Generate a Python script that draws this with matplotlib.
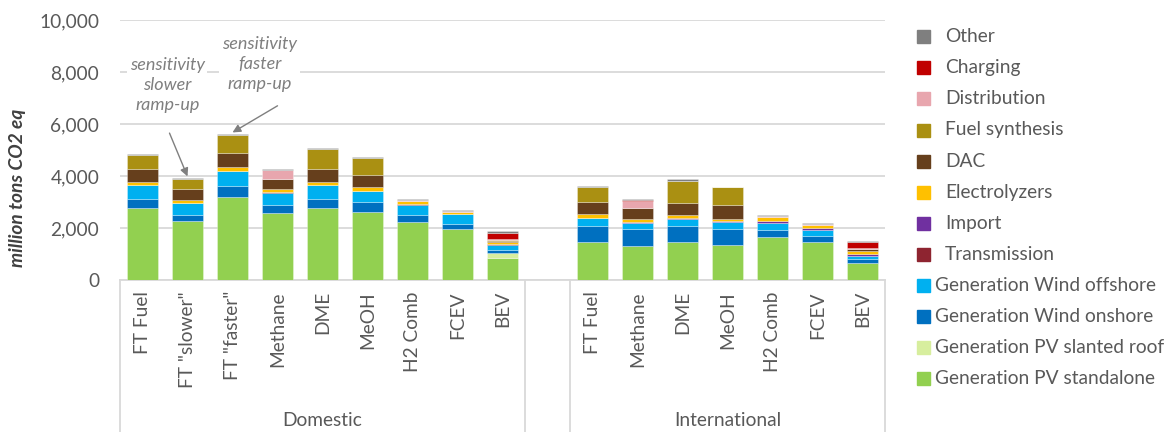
import matplotlib
matplotlib.use("Agg")
import matplotlib.pyplot as plt
from matplotlib.patches import Rectangle
from matplotlib.ticker import FuncFormatter
import numpy as np

plt.rcParams['font.family'] = ['Lato', 'DejaVu Sans']

# Categories (an empty slot separates the two groups)
domestic = ['FT Fuel', 'FT "slower"', 'FT "faster"', 'Methane', 'DME', 'MeOH',
            'H2 Comb', 'FCEV', 'BEV']
international = ['FT Fuel', 'Methane', 'DME', 'MeOH', 'H2 Comb', 'FCEV', 'BEV']
groups = ['Domestic', 'International']

# Emission components (million tons CO2 eq), bottom to top of the stack
series_names = ['Generation PV standalone', 'Generation PV slanted roof',
                'Generation Wind onshore', 'Generation Wind offshore',
                'Transmission', 'Import', 'Electrolyzers', 'DAC',
                'Fuel synthesis', 'Distribution', 'Charging', 'Other']

#                         FT   slow  fast  CH4   DME  MeOH   H2  FCEV  BEV
dom_pv_standalone   = [2780, 2255, 3190, 2565, 2770, 2600, 2220, 1950, 835]
dom_pv_slanted      = [   0,    0,    0,    0,    0,    0,    0,    0, 200]
dom_wind_onshore    = [ 350,  260,  440,  330,  360,  385,  295,  215, 130]
dom_wind_offshore   = [ 510,  445,  550,  460,  510,  440,  380,  360, 195]
dom_transmission    = [   0,    0,    0,   40,    0,    0,   20,   15,  20]
dom_import          = [   0,    0,    0,    0,    0,    0,    0,    0,   0]
dom_electrolyzers   = [ 140,  115,  165,   90,  130,  140,  120,   90,  70]
dom_dac             = [ 500,  435,  550,  410,  485,  460,    0,    0,  50]
dom_fuel_synthesis  = [ 530,  385,  690,    0,  790,  670,    0,    0,  30]
dom_distribution    = [   0,    0,    0,  320,    0,    0,   40,   30,  40]
dom_charging        = [   0,    0,    0,    0,    0,    0,    0,    0, 250]
dom_other           = [  25,   30,   30,   40,   20,   25,   40,   30,  65]

#                         FT   CH4   DME  MeOH   H2  FCEV  BEV
int_pv_standalone   = [1475, 1320, 1475, 1345, 1655, 1460, 640]
int_pv_slanted      = [   0,    0,    0,    0,    0,    0,   0]
int_wind_onshore    = [ 600,  630,  600,  630,  270,  230, 170]
int_wind_offshore   = [ 295,  255,  285,  245,  280,  235, 130]
int_transmission    = [   0,    0,    0,    0,    0,    0,   0]
int_import          = [  30,   40,   40,   35,   65,   75,  50]
int_electrolyzers   = [ 140,  115,  100,   90,  140,  100, 110]
int_dac             = [ 475,  395,  475,  525,    0,    0,  90]
int_fuel_synthesis  = [ 575,    0,  845,  695,    0,    0,   0]
int_distribution    = [   0,  295,    0,    0,   55,   45,  60]
int_charging        = [   0,   25,    0,    0,    0,    0, 210]
int_other           = [  25,   25,   50,   25,   45,   35,  55]

colors = ['#92D050', '#D7EE9E', '#0070C0', '#00B0F0', '#8E2430', '#7030A0',
          '#FFC000', '#663F1C', '#AA9012', '#E8A6AE', '#C00000', '#7F7F7F']

dom_series = [dom_pv_standalone, dom_pv_slanted, dom_wind_onshore,
              dom_wind_offshore, dom_transmission, dom_import,
              dom_electrolyzers, dom_dac, dom_fuel_synthesis,
              dom_distribution, dom_charging, dom_other]
int_series = [int_pv_standalone, int_pv_slanted, int_wind_onshore,
              int_wind_offshore, int_transmission, int_import,
              int_electrolyzers, int_dac, int_fuel_synthesis,
              int_distribution, int_charging, int_other]

labels = domestic + [''] + international
n_slots = len(labels)
x_dom = np.arange(len(domestic))
x_int = np.arange(len(international)) + len(domestic) + 1

text_gray = '#595959'
grid_gray = '#D9D9D9'
fs = 13.8

fig = plt.figure(figsize=(11.75, 4.32), dpi=100)
ax = fig.add_axes([120 / 1175, 1 - 280 / 432, 765 / 1175, 260 / 432])

bar_w = 0.67
for xs, series in ((x_dom, dom_series), (x_int, int_series)):
    bottom = np.zeros(len(xs))
    for vals, col in zip(series, colors):
        vals = np.asarray(vals, dtype=float)
        ax.bar(xs, vals, bar_w, bottom=bottom, color=col,
               edgecolor=(1, 1, 1, 0.35), linewidth=0.6, zorder=3)
        bottom += vals

ax.set_xlim(-0.5, n_slots - 0.5)
ax.set_ylim(0, 10000)
ax.set_yticks(np.arange(0, 10001, 2000))
ax.yaxis.set_major_formatter(FuncFormatter(lambda v, p: f'{int(v):,}'))
ax.grid(axis='y', color=grid_gray, linewidth=1.3, zorder=0)
ax.set_axisbelow(True)
for s in ('top', 'right', 'left'):
    ax.spines[s].set_visible(False)
ax.spines['bottom'].set_color(grid_gray)
ax.spines['bottom'].set_linewidth(1.3)
ax.tick_params(axis='y', length=0, labelsize=fs, labelcolor=text_gray, pad=15)

# Axis title sits a little below the middle of the value axis
fig.text(18 / 1175, 1 - 188 / 432, 'million tons CO2 eq', rotation=90,
         ha='center', va='center', fontsize=fs, fontweight='bold',
         fontstyle='italic', color='#404040')

ax.set_xticks(np.arange(n_slots))
ax.set_xticklabels(labels, rotation=90, fontsize=fs, color=text_gray)
ax.tick_params(axis='x', length=0, pad=8)

# Group dividers and group names below the category labels
xt = ax.get_xaxis_transform()
y_low = -152 / 260
for xv in (-0.5, len(domestic) - 0.5, len(domestic) + 0.5, n_slots - 0.5):
    ax.plot([xv, xv], [0, y_low], transform=xt, color=grid_gray,
            linewidth=1.3, clip_on=False)
ax.text((len(domestic) - 1) / 2, -141 / 260, groups[0], transform=xt,
        ha='center', va='center', fontsize=fs, color=text_gray)
ax.text(len(domestic) + 1 + (len(international) - 1) / 2, -141 / 260,
        groups[1], transform=xt, ha='center', va='center', fontsize=fs,
        color=text_gray)

# Sensitivity notes with arrows to the FT variants
note_kw = dict(ha='center', va='center', fontsize=13, fontstyle='italic',
               color='#7F7F7F', linespacing=1.3,
               bbox=dict(boxstyle='square,pad=0.15', fc='white', ec='none'),
               zorder=5)
arrow_kw = dict(arrowstyle='-|>', color='#7F7F7F', lw=1.0,
                mutation_scale=12, shrinkA=0, shrinkB=0)
slow_top = sum(s[1] for s in dom_series)
fast_top = sum(s[2] for s in dom_series)
ax.text(0.55, 7500, 'sensitivity\nslower\nramp-up', **note_kw)
ax.text(2.6, 8300, 'sensitivity\nfaster\nramp-up', **note_kw)
ax.annotate('', xy=(1.0, slow_top + 60), xytext=(0.6, 5650),
            arrowprops=arrow_kw, zorder=6)
ax.annotate('', xy=(2.0, fast_top + 60), xytext=(3.0, 6700),
            arrowprops=arrow_kw, zorder=6)

# Legend, top entry = top of stack
y0, dy = 36.7, 31.1
for i, (name, col) in enumerate(zip(series_names[::-1], colors[::-1])):
    yc = y0 + i * dy
    fig.patches.append(Rectangle((917 / 1175, 1 - (yc + 6.5) / 432),
                                 13 / 1175, 13 / 432, color=col,
                                 transform=fig.transFigure))
    tx = 935 if name.startswith('Generation') else 945
    fig.text(tx / 1175, 1 - yc / 432, name, ha='left', va='center',
             fontsize=fs, color=text_gray)

fig.savefig('out.png', dpi=100)
